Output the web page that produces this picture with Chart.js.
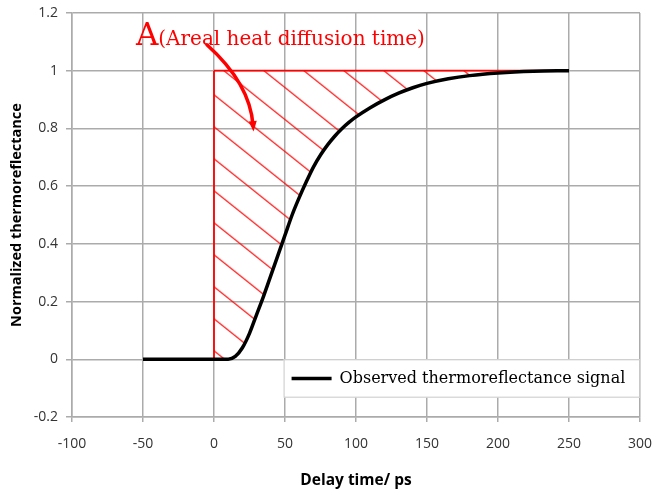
<!DOCTYPE html>
<html>
<head>
<meta charset="utf-8">
<script src="https://cdn.jsdelivr.net/npm/chart.js@4.4.0/dist/chart.umd.min.js"></script>
<style>
  html, body { margin: 0; padding: 0; background: #fff; }
  #wrap { width: 656px; height: 495px; }
</style>
</head>
<body>
<div id="wrap"><canvas id="chart"></canvas></div>
<script>
// delay time (ps) and normalized signal
const delayTimes = [-50, 0, 10, 15, 20, 25, 30, 35, 40, 45, 50, 55, 60, 65, 70, 75, 80, 85, 90, 95, 100, 110, 120, 130, 140, 150, 165, 180, 200, 225, 250];
const signal     = [0, 0, 0, 0.01, 0.04, 0.09, 0.155, 0.22, 0.29, 0.36, 0.43, 0.50, 0.56, 0.615, 0.666, 0.708, 0.743, 0.773, 0.799, 0.821, 0.84, 0.872, 0.899, 0.922, 0.941, 0.956, 0.972, 0.983, 0.992, 0.998, 1.0];

// hatched area A: bounded by t = 0, signal = 1 and the curve
const areaTopX = [0, 250];
const areaTopY = [1, 1];
const areaLeftX = [0, 0];
const areaLeftY = [0, 1];

const xTicks = [-100, -50, 0, 50, 100, 150, 200, 250, 300];
const yTicks = [-0.2, 0, 0.2, 0.4, 0.6, 0.8, 1, 1.2];

const legendLabel = 'Observed thermoreflectance signal';
const noteBig = 'A';
const noteSmall = '(Areal heat diffusion time)';

const gridGray = '#ababab';
const red = '#ff0000';

function toPoints(xs, ys) {
  return xs.map((x, i) => ({ x: x, y: ys[i] }));
}

// diagonal hatch tile
function makeHatch() {
  const c = document.createElement('canvas');
  c.width = 40; c.height = 32;
  const g = c.getContext('2d');
  g.strokeStyle = red;
  g.lineWidth = 1.1;
  const offs = [[0, 0], [40, 0], [-40, 0], [0, 32], [0, -32]];
  g.beginPath();
  offs.forEach(o => {
    g.moveTo(-8 + o[0], -6.4 + o[1]);
    g.lineTo(48 + o[0], 38.4 + o[1]);
  });
  g.stroke();
  return g.createPattern(c, 'repeat');
}
const hatch = makeHatch();

const extras = {
  id: 'extras',
  beforeDatasetsDraw(chart) {
    const xs = chart.scales.x, ys = chart.scales.y;
    if (hatch.setTransform) {
      hatch.setTransform(new DOMMatrix().translate(xs.getPixelForValue(0), ys.getPixelForValue(1) + 24));
    }
  },
  afterDatasetsDraw(chart) {
    const ctx = chart.ctx;
    const xs = chart.scales.x, ys = chart.scales.y;
    const px = v => xs.getPixelForValue(v);
    const py = v => ys.getPixelForValue(v);
    ctx.save();

    // curved arrow pointing into the hatched area
    const sx = px(-5), sy = py(1.09);
    const cx = px(25.5), cy = py(0.955);
    const ex = px(27.5), ey = py(0.81);
    ctx.strokeStyle = red;
    ctx.lineWidth = 3.5;
    ctx.lineCap = 'round';
    ctx.beginPath();
    ctx.moveTo(sx, sy);
    ctx.quadraticCurveTo(cx, cy, ex, ey);
    ctx.stroke();
    const ang = Math.atan2(ey - cy, ex - cx);
    ctx.fillStyle = red;
    ctx.beginPath();
    ctx.moveTo(ex + Math.cos(ang) * 6, ey + Math.sin(ang) * 6);
    ctx.lineTo(ex + Math.cos(ang + 2.4) * 6, ey + Math.sin(ang + 2.4) * 6);
    ctx.lineTo(ex + Math.cos(ang - 2.4) * 6, ey + Math.sin(ang - 2.4) * 6);
    ctx.closePath();
    ctx.fill();

    // annotation text
    ctx.fillStyle = red;
    ctx.textBaseline = 'alphabetic';
    ctx.textAlign = 'left';
    ctx.font = '31px "DejaVu Serif"';
    const ax = px(-55), ay = py(1.09);
    ctx.fillText(noteBig, ax, ay);
    const w = ctx.measureText(noteBig).width;
    ctx.font = '20px "DejaVu Serif"';
    ctx.fillText(noteSmall, ax + w, ay);

    // legend box inside the plot
    const lx = px(49), lt = py(0), lr = xs.right, lb = py(-0.133);
    ctx.fillStyle = '#fff';
    ctx.fillRect(lx, lt, lr - lx, lb - lt);
    ctx.strokeStyle = '#c8c8c8';
    ctx.lineWidth = 1;
    ctx.strokeRect(lx + 0.5, lt + 0.5, lr - lx - 1, lb - lt - 1);
    const my = (lt + lb) / 2;
    ctx.strokeStyle = '#000';
    ctx.lineWidth = 3.5;
    ctx.lineCap = 'butt';
    ctx.beginPath();
    ctx.moveTo(lx + 8, my);
    ctx.lineTo(lx + 48, my);
    ctx.stroke();
    ctx.fillStyle = '#000';
    ctx.font = '16px "DejaVu Serif"';
    ctx.textBaseline = 'middle';
    ctx.fillText(legendLabel, lx + 56, my);
    ctx.restore();
  }
};

new Chart(document.getElementById('chart'), {
  type: 'scatter',
  data: {
    datasets: [{
      label: legendLabel,
      data: toPoints(delayTimes, signal),
      showLine: true,
      borderColor: '#000',
      borderWidth: 3.5,
      pointRadius: 0,
      cubicInterpolationMode: 'monotone',
      fill: false
    }, {
      label: 'area top',
      data: toPoints(areaTopX, areaTopY),
      showLine: true,
      borderColor: red,
      borderWidth: 1.8,
      pointRadius: 0,
      backgroundColor: hatch,
      fill: 0
    }, {
      label: 'area left',
      data: toPoints(areaLeftX, areaLeftY),
      showLine: true,
      borderColor: red,
      borderWidth: 1.8,
      pointRadius: 0,
      fill: false
    }]
  },
  options: {
    responsive: true,
    maintainAspectRatio: false,
    animation: false,
    layout: { padding: { top: 13, right: 16, left: 0, bottom: 0 } },
    plugins: {
      legend: { display: false },
      tooltip: { enabled: false }
    },
    scales: {
      x: {
        type: 'linear',
        min: -100, max: 300,
        afterBuildTicks: s => { s.ticks = xTicks.map(v => ({ value: v })); },
        afterFit: s => { s.height = 78; s.paddingLeft = 0; s.paddingRight = 0; },
        grid: { color: gridGray, lineWidth: 1.5, tickLength: 5 },
        border: { color: gridGray, width: 1.5 },
        ticks: { font: { family: '"Open Sans"', size: 14 }, color: '#333', padding: 14 },
        title: {
          display: true,
          text: 'Delay time/ ps',
          font: { family: '"Open Sans"', size: 15.5, weight: 'bold' },
          color: '#000',
          padding: { top: 0, bottom: 5 }
        }
      },
      y: {
        min: -0.2, max: 1.2,
        afterBuildTicks: s => { s.ticks = yTicks.map(v => ({ value: v })); },
        afterFit: s => { s.width = 72; s.paddingTop = 0; s.paddingBottom = 0; },
        grid: { color: gridGray, lineWidth: 1.5, tickLength: 6 },
        border: { color: gridGray, width: 1.5 },
        ticks: {
          font: { family: '"Open Sans"', size: 14 },
          color: '#333',
          padding: 8,
          callback: v => String(Math.round(v * 10) / 10)
        },
        title: {
          display: true,
          text: 'Normalized thermoreflectance',
          font: { family: '"Open Sans"', size: 14.5, weight: 'bold' },
          color: '#000',
          padding: { top: 8, bottom: 0 }
        }
      }
    }
  },
  plugins: [extras]
});
</script>
</body>
</html>
